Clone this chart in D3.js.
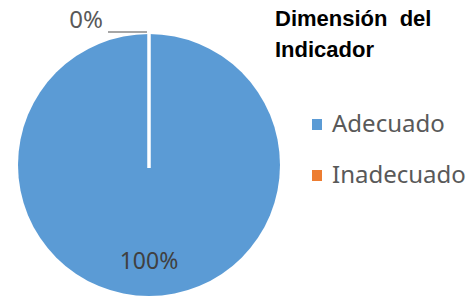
<!DOCTYPE html>
<html>
<head>
<meta charset="utf-8">
<script src="https://cdn.jsdelivr.net/npm/d3@7"></script>
<style>
  body { margin: 0; background: #fff; }
  svg { display: block; }
</style>
</head>
<body>
<script>
// datos del grafico
var categorias = ["Adecuado", "Inadecuado"];
var valores = [100, 0];
var etiquetas = ["100%", "0%"];
var colores = ["#5B9BD5", "#ED7D31"];

var w = 467, h = 298;
var cx = 149, cy = 165, radio = 131;

var svg = d3.select("body").append("svg")
    .attr("width", w)
    .attr("height", h);

var pie = d3.pie().sort(null).value(function(d) { return d; });
var arcos = pie(valores);
var arc = d3.arc().innerRadius(0).outerRadius(radio);

var g = svg.append("g").attr("transform", "translate(" + cx + "," + cy + ")");

g.selectAll("path")
    .data(arcos)
    .enter()
    .append("path")
    .attr("d", arc)
    .attr("fill", function(d, i) { return colores[i]; });

// linea blanca del borde de la porcion 0%
var ang = arcos[1].startAngle;
var px = Math.sin(ang) * radio, py = -Math.cos(ang) * radio;
g.append("line")
    .attr("x1", 0).attr("y1", 3)
    .attr("x2", px).attr("y2", py - 1)
    .attr("stroke", "#fff")
    .attr("stroke-width", 3.5);

// etiqueta 100%
var arcEtiq = d3.arc().innerRadius(radio * 0.73).outerRadius(radio * 0.73);
var c0 = arcEtiq.centroid(arcos[0]);
g.append("text")
    .attr("x", c0[0]).attr("y", c0[1] + 8)
    .attr("text-anchor", "middle")
    .attr("font-family", "Noto Sans, sans-serif")
    .attr("font-size", "23px")
    .attr("fill", "#404040")
    .text(etiquetas[0]);

// etiqueta 0% con linea guia
g.append("line")
    .attr("x1", px - 2).attr("y1", py - 2)
    .attr("x2", px - 41).attr("y2", py - 2)
    .attr("stroke", "#a6a6a6")
    .attr("stroke-width", 2);
g.append("text")
    .attr("x", px - 46).attr("y", py - 6)
    .attr("text-anchor", "end")
    .attr("font-family", "Noto Sans, sans-serif")
    .attr("font-size", "24px")
    .attr("fill", "#595959")
    .text(etiquetas[1]);

// titulo de la leyenda
var titulo = svg.append("text")
    .attr("font-family", "Liberation Sans, Arial, sans-serif")
    .attr("font-weight", "bold")
    .attr("font-size", "22px")
    .attr("fill", "#000");
titulo.append("tspan").attr("x", 275).attr("y", 26).attr("xml:space", "preserve").text("Dimensión  del");
titulo.append("tspan").attr("x", 275).attr("y", 57).text("Indicador");

// leyenda
var ley = svg.selectAll(".ley")
    .data(categorias)
    .enter()
    .append("g")
    .attr("class", "ley")
    .attr("transform", function(d, i) { return "translate(312," + (124 + i * 51) + ")"; });

ley.append("rect")
    .attr("x", 0).attr("y", -5)
    .attr("width", 10).attr("height", 11)
    .attr("fill", function(d, i) { return colores[i]; });

ley.append("text")
    .attr("x", 20).attr("y", 8)
    .attr("font-family", "Noto Sans, sans-serif")
    .attr("font-size", "24px")
    .attr("fill", "#595959")
    .text(function(d) { return d; });
</script>
</body>
</html>
